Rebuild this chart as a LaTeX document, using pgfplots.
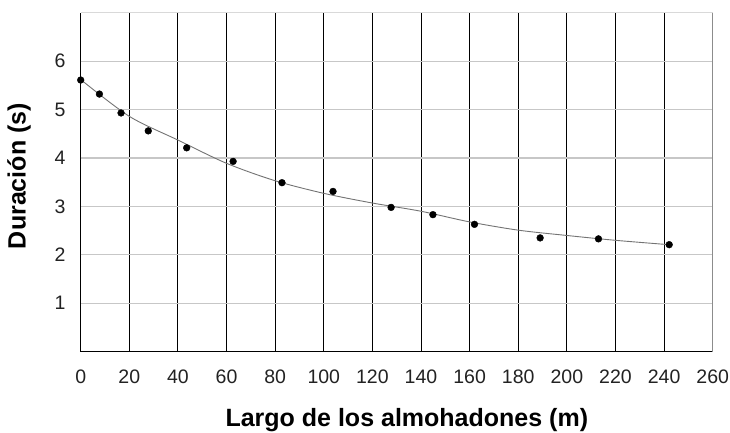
\documentclass[border=0pt]{standalone}
\usepackage{fontspec}
\setmainfont{Liberation Sans}
\usepackage{pgfplots}
\pgfplotsset{compat=1.18}
\definecolor{ticktext}{HTML}{222222}
\begin{document}
\begin{tikzpicture}[x=1pt,y=1pt]
\useasboundingbox (-80.7,-80.3) rectangle (649.3,351.7);
\begin{axis}[
  at={(0,0)}, anchor=south west,
  scale only axis, width=632pt, height=339pt,
  xmin=0, xmax=260, ymin=0, ymax=7,
  xtick={0,20,...,260}, ytick={1,...,6},
  major tick length=0pt,
  /pgf/number format/assume math mode=true,
  tick label style={font=\fontsize{19.5}{22}\selectfont, text=ticktext, inner sep=0pt},
  xticklabel style={anchor=north, yshift=-18pt},
  yticklabel style={anchor=east, xshift=-15pt},
  xmajorgrids, ymajorgrids,
  x grid style={black, line width=1pt},
  y grid style={black!22, line width=1.2pt},
  extra y ticks={2,4,6},
  extra y tick labels={},
  extra y tick style={grid=major, major grid style={black, line width=1pt}},
  axis line style={black, line width=1pt},
  axis x line*=bottom, axis y line*=left,
  xlabel={Largo de los almohadones (m)},
  ylabel={Duración (s)},
  label style={font=\fontsize{25}{28}\selectfont\bfseries, text=black},
  xlabel style={at={(axis description cs:0.516,-0.222)}, anchor=base},
  ylabel style={at={(axis description cs:-0.0976,0.518)}, anchor=center},
  clip=false,
]
\draw[black!15, line width=1.2pt] (axis cs:0,7) -- (axis cs:260,7);
\draw[black!45, line width=1.3pt] (axis cs:260,0) -- (axis cs:260,7);
% trend line
\addplot[smooth, color=black!55, line width=0.9pt, no marks] coordinates {
(0,5.62) (20,4.86) (40,4.37) (60,3.89) (80,3.53) (100,3.27) (120,3.07)
(140,2.90) (160,2.68) (180,2.51) (200,2.40) (220,2.30) (242,2.21)
};
% measured points
\addplot[only marks, mark=*, mark size=3.4pt, color=black] coordinates {
(0,5.61) (7.7,5.32) (16.6,4.93) (27.8,4.56) (43.6,4.21) (62.7,3.93)
(82.8,3.49) (103.8,3.31) (127.7,2.98) (144.9,2.83) (162,2.63)
(189,2.35) (213,2.33) (242.1,2.21)
};
\end{axis}
\end{tikzpicture}
\end{document}
